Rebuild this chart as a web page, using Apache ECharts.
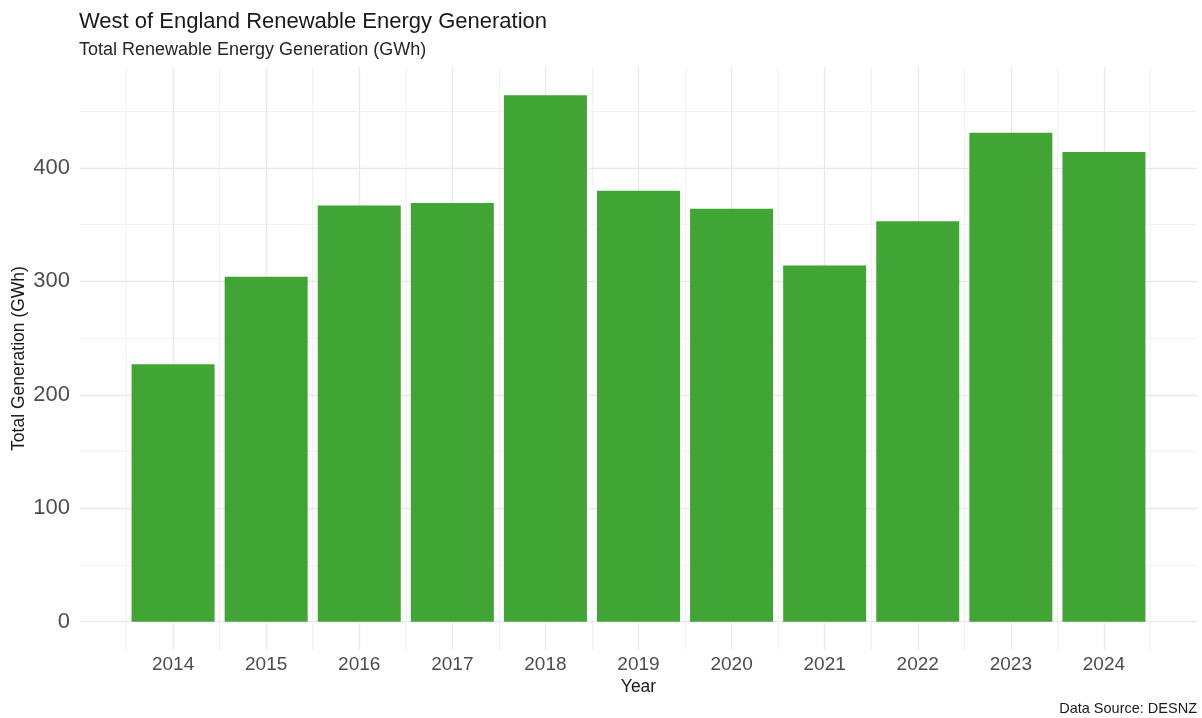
<!DOCTYPE html>
<html>
<head>
<meta charset="utf-8">
<title>West of England Renewable Energy Generation</title>
<script src="https://cdn.jsdelivr.net/npm/echarts@6/dist/echarts.min.js"></script>
<style>
  html, body { margin: 0; padding: 0; background: #fff; }
  #main { width: 1202px; height: 718px; }
</style>
</head>
<body>
<div id="main"></div>
<script>
// data
var years = [2014, 2015, 2016, 2017, 2018, 2019, 2020, 2021, 2022, 2023, 2024];
var generation = [227, 304, 367, 369, 464, 380, 364, 314, 353, 431, 414];

// gridlines (y) -- major ticks carry labels
var yMajorTicks = [0, 100, 200, 300, 400];
var yMinorTicks = [50, 150, 250, 350, 450];

var FONT = 'Liberation Sans, Arial, Helvetica, sans-serif';

// bar data as [year, value]
var barData = [];
for (var i = 0; i < years.length; i++) {
	barData.push([years[i], generation[i]]);
}

// vertical gridlines: at each year, and half way between years
var xMajorLines = [];
var xMinorLines = [];
for (var i = 0; i < years.length; i++) {
	xMajorLines.push({ xAxis: years[i] });
	xMinorLines.push({ xAxis: years[i] - 0.5 });
}
xMinorLines.push({ xAxis: years[years.length - 1] + 0.5 });

var yMajorLines = yMajorTicks.map(function (v) { return { yAxis: v }; });
var yMinorLines = yMinorTicks.map(function (v) { return { yAxis: v }; });

function gridSeries(lines, color, width) {
	return {
		type: 'line',
		data: [],
		z: 0,
		silent: true,
		markLine: {
			z: 0,
			silent: true,
			symbol: 'none',
			animation: false,
			label: { show: false },
			emphasis: { disabled: true },
			lineStyle: { color: color, width: width, type: 'solid' },
			data: lines
		}
	};
}

var myChart = echarts.init(document.getElementById('main'));

var option = {
	animation: false,
	backgroundColor: '#ffffff',
	textStyle: { fontFamily: FONT },
	title: [
		{
			text: 'West of England Renewable Energy Generation',
			subtext: 'Total Renewable Energy Generation (GWh)',
			left: 79,
			top: 11,
			padding: 0,
			itemGap: 8,
			textStyle: { fontFamily: FONT, fontSize: 22, fontWeight: 'normal', color: '#1a1a1a' },
			subtextStyle: { fontFamily: FONT, fontSize: 18, color: '#262626' }
		},
		{
			text: 'Data Source: DESNZ',
			right: 5,
			top: 701,
			padding: 0,
			textStyle: { fontFamily: FONT, fontSize: 14.5, fontWeight: 'normal', color: '#1a1a1a' }
		}
	],
	grid: {
		left: 80,
		right: 5,
		top: 67,
		bottom: 68,
		containLabel: false,
		outerBoundsMode: 'none'
	},
	xAxis: {
		type: 'value',
		min: 2013,
		max: 2025,
		interval: 1,
		name: 'Year',
		nameLocation: 'middle',
		nameGap: 28,
		nameMoveOverlap: false,
		nameTextStyle: { fontFamily: FONT, fontSize: 17.5, color: '#1a1a1a' },
		axisLine: { show: false },
		axisTick: { show: false },
		splitLine: { show: false },
		axisLabel: {
			margin: 5,
			fontFamily: FONT,
			fontSize: 19,
			color: '#4d4d4d',
			formatter: function (v) {
				return years.indexOf(v) >= 0 ? String(v) : '';
			}
		}
	},
	yAxis: {
		type: 'value',
		min: -25,
		max: 489,
		interval: 25,
		name: 'Total Generation (GWh)',
		nameLocation: 'middle',
		nameGap: 52,
		nameMoveOverlap: false,
		nameTextStyle: { fontFamily: FONT, fontSize: 17.5, color: '#1a1a1a' },
		axisLine: { show: false },
		axisTick: { show: false },
		splitLine: { show: false },
		axisLabel: {
			margin: 10,
			fontFamily: FONT,
			fontSize: 22,
			color: '#4d4d4d',
			formatter: function (v) {
				return yMajorTicks.indexOf(v) >= 0 ? String(v) : '';
			}
		}
	},
	series: [
		gridSeries(xMinorLines, '#f2f2f2', 1),
		gridSeries(yMinorLines, '#f2f2f2', 1),
		gridSeries(xMajorLines, '#e9e9e9', 1.3),
		gridSeries(yMajorLines, '#e9e9e9', 1.3),
		{
			name: 'Total Generation',
			type: 'bar',
			z: 5,
			barWidth: 83,
			itemStyle: { color: '#41a536' },
			data: barData
		}
	]
};

myChart.setOption(option);
</script>
</body>
</html>
